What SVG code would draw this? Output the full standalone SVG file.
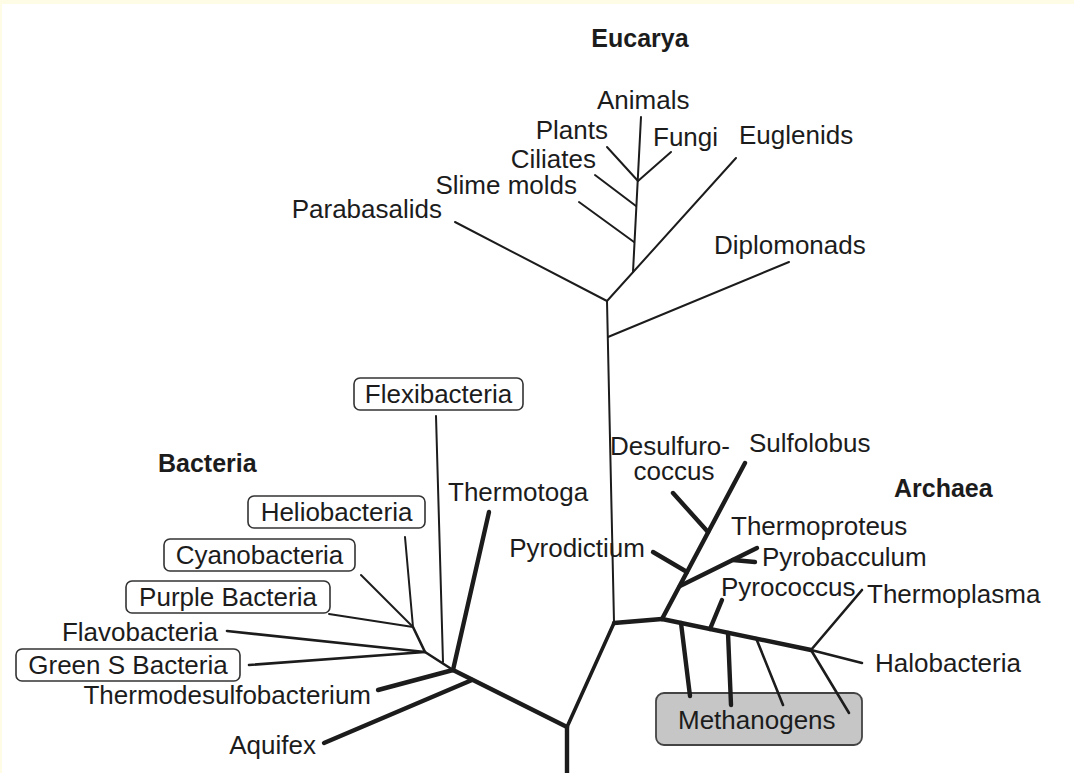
<svg xmlns="http://www.w3.org/2000/svg" width="1074" height="773" viewBox="0 0 1074 773">
<style>
text{font-family:"Liberation Sans",Arial,sans-serif;font-size:26px;fill:#1c1c1c}
.b{font-weight:bold;font-size:25px}
.e{text-anchor:end}
.m{text-anchor:middle}
.box{fill:#fff;stroke:#333;stroke-width:1.6}
.meth{fill:#c6c6c6;stroke:#444;stroke-width:1.8}
#connectors line,#connectors polyline{stroke:#1c1c1c;fill:none;stroke-linecap:round;stroke-linejoin:round}
.t1{stroke-width:2}
.t2{stroke-width:2.6}
.t3{stroke-width:3.6}
.t4{stroke-width:4.4}
</style>
<rect width="1074" height="773" fill="#fefce4"/>
<rect x="2" y="4" width="1072" height="769" fill="#fff"/>

<g id="methanogens-box"><rect class="meth" x="656" y="693" width="206" height="52" rx="8"/></g>

<g id="connectors">
  <!-- Eucarya -->
  <line class="t1" x1="607" y1="301" x2="614" y2="622"/>
  <line class="t1" x1="455" y1="222" x2="607" y2="301"/>
  <line class="t1" x1="736" y1="158" x2="607" y2="301"/>
  <line class="t1" x1="641" y1="117" x2="633" y2="272"/>
  <line class="t1" x1="607" y1="147" x2="638" y2="181"/>
  <line class="t1" x1="671" y1="152" x2="638" y2="181"/>
  <line class="t1" x1="595" y1="175" x2="636" y2="206"/>
  <line class="t1" x1="579" y1="202" x2="634" y2="242"/>
  <line class="t1" x1="789" y1="262" x2="608" y2="337"/>
  <!-- Bacteria -->
  <line class="t4" x1="453" y1="670" x2="567" y2="727"/>
  <line class="t4" x1="567" y1="727" x2="567" y2="773"/>
  <line class="t4" x1="489" y1="512" x2="453" y2="670"/>
  <line class="t4" x1="378" y1="690" x2="453" y2="670"/>
  <line class="t4" x1="324" y1="743" x2="472" y2="680"/>
  <line class="t1" x1="436" y1="416" x2="443" y2="662"/>
  <polyline class="t2" points="413,627 425,652 453,670"/>
  <line class="t1" x1="405" y1="537" x2="413" y2="627"/>
  <line class="t1" x1="361" y1="575" x2="413" y2="627"/>
  <line class="t1" x1="329" y1="614" x2="413" y2="627"/>
  <line class="t2" x1="227" y1="631" x2="425" y2="652"/>
  <line class="t2" x1="249" y1="665" x2="425" y2="652"/>
  <!-- Archaea -->
  <line class="t3" x1="567" y1="727" x2="614" y2="623"/>
  <line class="t4" x1="614" y1="623" x2="662" y2="619"/>
  <line class="t4" x1="662" y1="619" x2="745" y2="463"/>
  <line class="t4" x1="673" y1="493" x2="708" y2="532"/>
  <line class="t4" x1="653" y1="552" x2="687" y2="572"/>
  <line class="t4" x1="680" y1="586" x2="757" y2="548"/>
  <line class="t4" x1="733" y1="560" x2="755" y2="562"/>
  <line class="t4" x1="662" y1="619" x2="811" y2="650"/>
  <line class="t4" x1="722" y1="600" x2="710" y2="629"/>
  <line class="t4" x1="681" y1="623" x2="690" y2="696"/>
  <line class="t4" x1="728" y1="633" x2="731" y2="705"/>
  <line class="t2" x1="756" y1="638" x2="783" y2="705"/>
  <line class="t2" x1="811" y1="650" x2="849" y2="713"/>
  <line class="t2" x1="811" y1="650" x2="862" y2="590"/>
  <line class="t2" x1="811" y1="650" x2="862" y2="663"/>
</g>

<g id="eucarya"><text class="b" x="640" y="47" text-anchor="middle">Eucarya</text></g>
<g id="animals"><text x="597" y="109">Animals</text></g>
<g id="plants"><text class="e" x="608" y="139">Plants</text></g>
<g id="fungi"><text x="653" y="146">Fungi</text></g>
<g id="euglenids"><text x="739" y="144">Euglenids</text></g>
<g id="ciliates"><text class="e" x="596" y="168">Ciliates</text></g>
<g id="slime-molds"><text class="e" x="577" y="194">Slime molds</text></g>
<g id="parabasalids"><text class="e" x="442" y="218">Parabasalids</text></g>
<g id="diplomonads"><text x="714" y="254">Diplomonads</text></g>

<g id="bacteria"><text class="b" x="158" y="472">Bacteria</text></g>
<g id="flexibacteria"><rect class="box" x="354" y="378" width="169" height="32" rx="6"/><text class="m" x="438.5" y="403">Flexibacteria</text></g>
<g id="heliobacteria"><rect class="box" x="248" y="496" width="177" height="32" rx="6"/><text class="m" x="336.5" y="521">Heliobacteria</text></g>
<g id="cyanobacteria"><rect class="box" x="164" y="539" width="191" height="32" rx="6"/><text class="m" x="259.5" y="564">Cyanobacteria</text></g>
<g id="purple-bacteria"><rect class="box" x="126" y="581" width="204" height="32" rx="6"/><text class="m" x="228" y="606">Purple Bacteria</text></g>
<g id="flavobacteria"><text class="e" x="218" y="641">Flavobacteria</text></g>
<g id="green-s-bacteria"><rect class="box" x="16" y="649" width="224" height="32" rx="6"/><text class="m" x="128" y="674">Green S Bacteria</text></g>
<g id="thermodesulfobacterium"><text class="e" x="371" y="704">Thermodesulfobacterium</text></g>
<g id="aquifex"><text class="e" x="316" y="754">Aquifex</text></g>
<g id="thermotoga"><text x="448" y="501">Thermotoga</text></g>

<g id="archaea"><text class="b" x="894" y="497">Archaea</text></g>
<g id="desulfurococcus"><text class="m" x="670" y="455">Desulfuro-</text><text class="m" x="674" y="480">coccus</text></g>
<g id="sulfolobus"><text x="749" y="452">Sulfolobus</text></g>
<g id="thermoproteus"><text x="731" y="535">Thermoproteus</text></g>
<g id="pyrobacculum"><text x="762" y="566">Pyrobacculum</text></g>
<g id="pyrodictium"><text class="e" x="645" y="557">Pyrodictium</text></g>
<g id="pyrococcus"><text x="721" y="596">Pyrococcus</text></g>
<g id="thermoplasma"><text x="867" y="603">Thermoplasma</text></g>
<g id="halobacteria"><text x="875" y="672">Halobacteria</text></g>
<g id="methanogens"><text x="678" y="729">Methanogens</text></g>
</svg>
